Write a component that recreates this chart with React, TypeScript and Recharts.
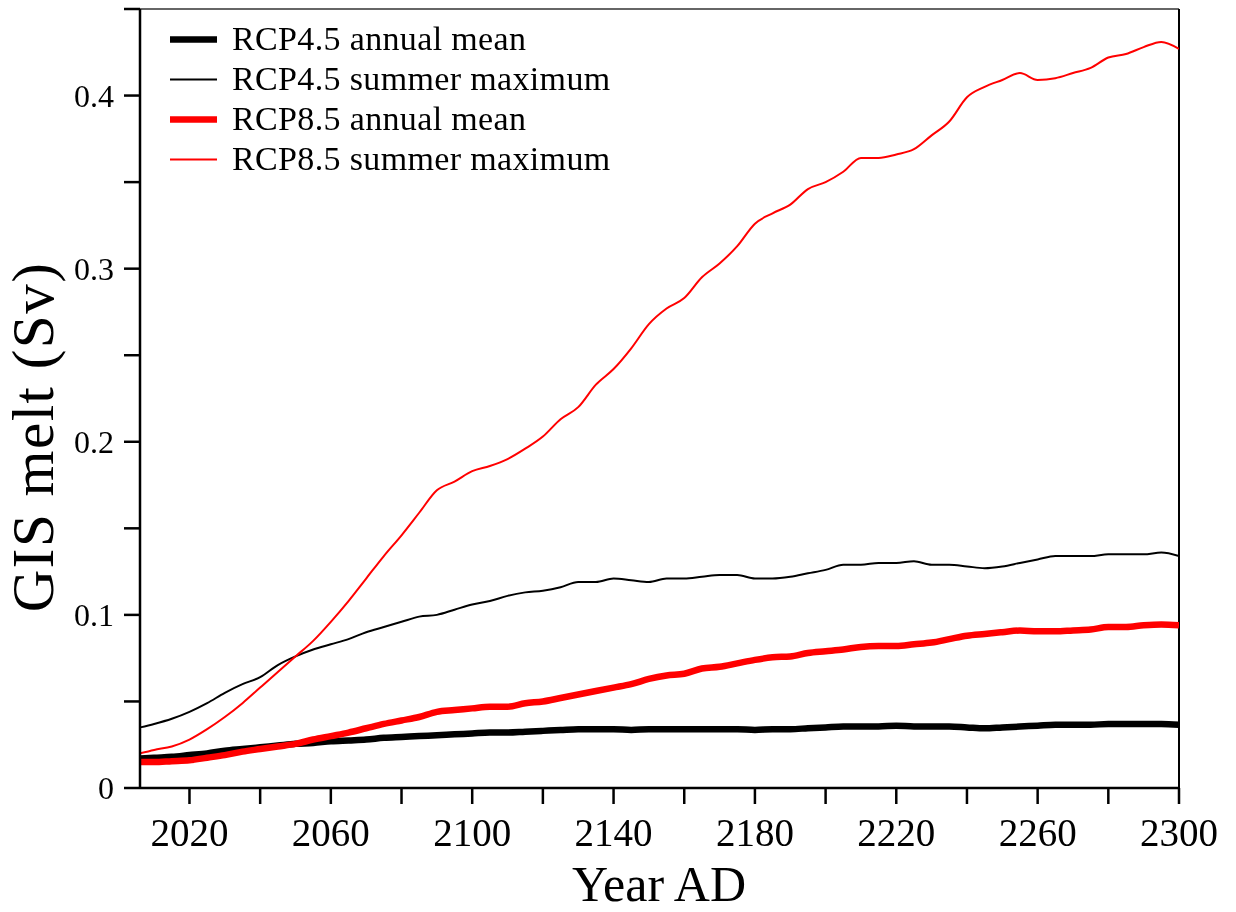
import { LineChart, Line, XAxis, YAxis, ReferenceLine, Legend } from 'recharts';

const FONT = '"Liberation Serif", "Times New Roman", serif';

// model years (5-year sampling from 2006 to 2300)
const years = [
  2006, 2010, 2015, 2020, 2025, 2030, 2035, 2040, 2045, 2050,
  2055, 2060, 2065, 2070, 2075, 2080, 2085, 2090, 2095, 2100,
  2105, 2110, 2115, 2120, 2125, 2130, 2135, 2140, 2145, 2150,
  2155, 2160, 2165, 2170, 2175, 2180, 2185, 2190, 2195, 2200,
  2205, 2210, 2215, 2220, 2225, 2230, 2235, 2240, 2245, 2250,
  2255, 2260, 2265, 2270, 2275, 2280, 2285, 2290, 2295, 2300,
];

// GIS melt in Sv
const rcp45Mean = [
  0.017, 0.0175, 0.018, 0.019, 0.02, 0.0215, 0.0225, 0.0235, 0.0245, 0.0255,
  0.026, 0.027, 0.0275, 0.028, 0.029, 0.0295, 0.03, 0.0305, 0.031, 0.0315,
  0.032, 0.032, 0.0325, 0.033, 0.0335, 0.034, 0.034, 0.034, 0.0335, 0.034,
  0.034, 0.034, 0.034, 0.034, 0.034, 0.0335, 0.034, 0.034, 0.0345, 0.035,
  0.0355, 0.0355, 0.0355, 0.036, 0.0355, 0.0355, 0.0355, 0.035, 0.0345, 0.035,
  0.0355, 0.036, 0.0365, 0.0365, 0.0365, 0.037, 0.037, 0.037, 0.037, 0.0365,
];

const rcp45Max = [
  0.035, 0.037, 0.04, 0.044, 0.049, 0.055, 0.06, 0.064, 0.071, 0.076,
  0.08, 0.083, 0.086, 0.09, 0.093, 0.096, 0.099, 0.1, 0.103, 0.106,
  0.108, 0.111, 0.113, 0.114, 0.116, 0.119, 0.119, 0.121, 0.12, 0.119,
  0.121, 0.121, 0.122, 0.123, 0.123, 0.121, 0.121, 0.122, 0.124, 0.126,
  0.129, 0.129, 0.13, 0.13, 0.131, 0.129, 0.129, 0.128, 0.127, 0.128,
  0.13, 0.132, 0.134, 0.134, 0.134, 0.135, 0.135, 0.135, 0.136, 0.134,
];

const rcp85Mean = [
  0.015, 0.015, 0.0155, 0.016, 0.0175, 0.019, 0.021, 0.0225, 0.024, 0.0255,
  0.028, 0.03, 0.032, 0.0345, 0.037, 0.039, 0.041, 0.044, 0.045, 0.046,
  0.047, 0.047, 0.049, 0.05, 0.052, 0.054, 0.056, 0.058, 0.06, 0.063,
  0.065, 0.066, 0.069, 0.07, 0.072, 0.074, 0.0755, 0.076, 0.078, 0.079,
  0.08, 0.0815, 0.082, 0.082, 0.083, 0.084, 0.086, 0.088, 0.089, 0.09,
  0.091, 0.0905, 0.0905, 0.091, 0.0915, 0.093, 0.093, 0.094, 0.0945, 0.094,
];

const rcp85Max = [
  0.02, 0.022, 0.024, 0.028, 0.034, 0.041, 0.049, 0.058, 0.067, 0.076,
  0.085, 0.096, 0.108, 0.121, 0.134, 0.146, 0.159, 0.172, 0.177, 0.183,
  0.186, 0.19, 0.196, 0.203, 0.213, 0.22, 0.233, 0.242, 0.254, 0.268,
  0.277, 0.283, 0.295, 0.303, 0.313, 0.326, 0.332, 0.337, 0.346, 0.35,
  0.356, 0.364, 0.364, 0.366, 0.369, 0.377, 0.385, 0.399, 0.405, 0.409,
  0.413, 0.409, 0.41, 0.413, 0.416, 0.422, 0.424, 0.428, 0.431, 0.427,
];

const xTicks = [2020, 2040, 2060, 2080, 2100, 2120, 2140, 2160, 2180, 2200, 2220, 2240, 2260, 2280, 2300];
const yTicks = [0, 0.05, 0.1, 0.15, 0.2, 0.25, 0.3, 0.35, 0.4, 0.45];

const series = [
  { key: 'rcp45Mean', name: 'RCP4.5 annual mean', color: '#000000', width: 6.5 },
  { key: 'rcp45Max', name: 'RCP4.5 summer maximum', color: '#000000', width: 2 },
  { key: 'rcp85Mean', name: 'RCP8.5 annual mean', color: '#ff0000', width: 6.5 },
  { key: 'rcp85Max', name: 'RCP8.5 summer maximum', color: '#ff0000', width: 2 },
];

const data = years.map((year, i) => ({
  year,
  rcp45Mean: rcp45Mean[i],
  rcp45Max: rcp45Max[i],
  rcp85Mean: rcp85Mean[i],
  rcp85Max: rcp85Max[i],
}));

const fmtX = (v: number) => ((v - 2020) % 40 === 0 ? String(v) : '');
const fmtY = (v: number) => {
  const r = Math.round(v * 100);
  if (r === 0) return '0';
  return r % 10 === 0 ? (r / 100).toFixed(1) : '';
};

function LegendBox() {
  return (
    <svg width={700} height={200} style={{ display: 'block' }}>
      {series.map((s, i) => {
        const base = 49.5 + i * 40;
        return (
          <g key={s.key}>
            <line x1={170} x2={217} y1={base - 10} y2={base - 10} stroke={s.color} strokeWidth={s.width} />
            <text x={232} y={base} fontFamily={FONT} fontSize={34} letterSpacing={0.35} fill="#000">
              {s.name}
            </text>
          </g>
        );
      })}
    </svg>
  );
}

function YTitle() {
  return (
    <text
      x={53}
      y={437}
      transform="rotate(-90, 53, 437)"
      textAnchor="middle"
      fontFamily={FONT}
      fontSize={59}
      letterSpacing={1.5}
      fill="#000"
    >
      GIS melt (Sv)
    </text>
  );
}

function XTitle() {
  return (
    <text x={659} y={901} textAnchor="middle" fontFamily={FONT} fontSize={50} fill="#000">
      Year AD
    </text>
  );
}

export default function App() {
  return (
    <div style={{ position: 'fixed', left: 0, top: 0 }}>
      <LineChart
        width={1236}
        height={912}
        data={data}
        margin={{ top: 9, right: 57, bottom: 0, left: 0 }}
      >
        <XAxis
          dataKey="year"
          type="number"
          domain={[2006, 2300]}
          ticks={xTicks}
          tickFormatter={fmtX}
          allowDataOverflow
          height={124}
          tickSize={16}
          tickMargin={14}
          interval={0}
          axisLine={{ stroke: '#000', strokeWidth: 2.5 }}
          tickLine={{ stroke: '#000', strokeWidth: 2.5 }}
          tick={{ fill: '#000', fontSize: 39, fontFamily: FONT }}
          label={<XTitle />}
        />
        <YAxis
          type="number"
          domain={[0, 0.45]}
          ticks={yTicks}
          tickFormatter={fmtY}
          allowDataOverflow
          width={140}
          tickSize={16}
          tickMargin={10}
          interval={0}
          axisLine={{ stroke: '#000', strokeWidth: 2.5 }}
          tickLine={{ stroke: '#000', strokeWidth: 2.5 }}
          tick={{ fill: '#000', fontSize: 32, fontFamily: FONT }}
          label={<YTitle />}
        />
        <ReferenceLine y={0.45} stroke="#333" strokeWidth={1.5} />
        <ReferenceLine x={2300} stroke="#000" strokeWidth={2} />
        <Legend
          layout="vertical"
          align="center"
          verticalAlign="middle"
          wrapperStyle={{ left: 0, top: 0, width: 700, height: 200 }}
          content={() => <LegendBox />}
        />
        {series.map((s) => (
          <Line
            key={s.key}
            dataKey={s.key}
            name={s.name}
            type="monotone"
            stroke={s.color}
            strokeWidth={s.width}
            dot={false}
            activeDot={false}
            isAnimationActive={false}
          />
        ))}
      </LineChart>
    </div>
  );
}
